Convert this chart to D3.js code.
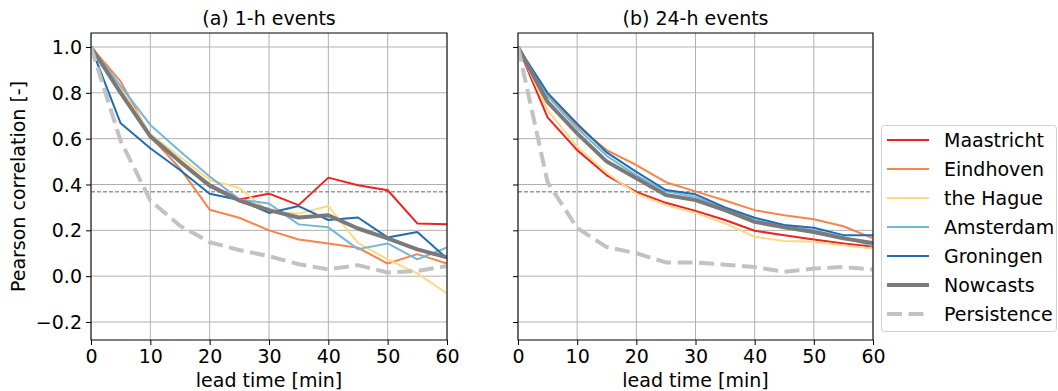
<!DOCTYPE html>
<html>
<head>
<meta charset="utf-8">
<script src="https://cdnjs.cloudflare.com/ajax/libs/d3/7.8.5/d3.min.js"></script>
<style>
  body { margin: 0; background: #fff; }
  text { font-family: "DejaVu Sans", sans-serif; fill: #000; }
</style>
</head>
<body>
<script>
// lead times in minutes
var leadTimes = [0, 5, 10, 15, 20, 25, 30, 35, 40, 45, 50, 55, 60];
var yTicks = [-0.2, 0.0, 0.2, 0.4, 0.6, 0.8, 1.0];
var xTicks = [0, 10, 20, 30, 40, 50, 60];
var names = ["Maastricht", "Eindhoven", "the Hague", "Amsterdam", "Groningen", "Nowcasts", "Persistence"];
var colors = ["#ec2320", "#f8844b", "#fdd985", "#74b6dc", "#1f6db0", "#7a7a7a", "#c2c2c2"];

// (a) 1-h events
var maastricht1h = [1.0, 0.80, 0.61, 0.50, 0.40, 0.335, 0.36, 0.31, 0.43, 0.397, 0.375, 0.23, 0.227];
var eindhoven1h = [1.0, 0.85, 0.61, 0.47, 0.29, 0.255, 0.20, 0.16, 0.143, 0.124, 0.055, 0.096, 0.055];
var hague1h = [1.0, 0.82, 0.62, 0.52, 0.42, 0.385, 0.28, 0.273, 0.306, 0.145, 0.073, 0.012, -0.075];
var amsterdam1h = [1.0, 0.83, 0.66, 0.545, 0.435, 0.335, 0.317, 0.226, 0.213, 0.118, 0.143, 0.073, 0.125];
var groningen1h = [1.0, 0.667, 0.558, 0.463, 0.36, 0.332, 0.276, 0.306, 0.245, 0.256, 0.169, 0.193, 0.077];
var nowcasts1h = [1.0, 0.80, 0.61, 0.50, 0.395, 0.33, 0.288, 0.256, 0.266, 0.208, 0.165, 0.117, 0.082];
var persistence1h = [1.0, 0.59, 0.33, 0.22, 0.148, 0.114, 0.087, 0.052, 0.03, 0.048, 0.016, 0.023, 0.044];

// (b) 24-h events
var maastricht24h = [1.0, 0.693, 0.55, 0.44, 0.368, 0.32, 0.285, 0.245, 0.198, 0.179, 0.16, 0.143, 0.128];
var eindhoven24h = [1.0, 0.79, 0.655, 0.55, 0.485, 0.41, 0.37, 0.33, 0.288, 0.266, 0.248, 0.218, 0.165];
var hague24h = [1.0, 0.725, 0.565, 0.45, 0.36, 0.31, 0.276, 0.23, 0.172, 0.153, 0.15, 0.135, 0.121];
var amsterdam24h = [1.0, 0.785, 0.645, 0.525, 0.44, 0.37, 0.346, 0.295, 0.245, 0.218, 0.20, 0.17, 0.131];
var groningen24h = [1.0, 0.80, 0.665, 0.54, 0.455, 0.376, 0.357, 0.30, 0.255, 0.223, 0.211, 0.179, 0.179];
var nowcasts24h = [1.0, 0.76, 0.623, 0.50, 0.427, 0.354, 0.332, 0.288, 0.237, 0.213, 0.193, 0.165, 0.145];
var persistence24h = [1.0, 0.41, 0.21, 0.127, 0.10, 0.06, 0.06, 0.05, 0.04, 0.019, 0.033, 0.04, 0.029];

var efold = 1 / Math.E;

var w = 1058;
var h = 391;
var plotTop = 33, plotBottom = 340;
var fs = "19px";

var panels = [
  {title: "(a) 1-h events", left: 91, right: 447, labels: true,
   series: [maastricht1h, eindhoven1h, hague1h, amsterdam1h, groningen1h, nowcasts1h, persistence1h]},
  {title: "(b) 24-h events", left: 518, right: 873, labels: false,
   series: [maastricht24h, eindhoven24h, hague24h, amsterdam24h, groningen24h, nowcasts24h, persistence24h]}
];

var svg = d3.select("body").append("svg")
    .attr("width", w)
    .attr("height", h);

var yScale = d3.scaleLinear()
    .domain([-0.2785, 1.061])
    .range([plotBottom, plotTop]);

panels.forEach(function(p) {
  var xScale = d3.scaleLinear()
      .domain([0, 60])
      .range([p.left, p.right]);

  var g = svg.append("g");

  // grid
  g.selectAll(".vgrid").data(xTicks).enter().append("line")
      .attr("x1", function(d) { return xScale(d); })
      .attr("x2", function(d) { return xScale(d); })
      .attr("y1", plotTop).attr("y2", plotBottom)
      .attr("stroke", "#b0b0b0").attr("stroke-width", 1);
  g.selectAll(".hgrid").data(yTicks).enter().append("line")
      .attr("y1", function(d) { return yScale(d); })
      .attr("y2", function(d) { return yScale(d); })
      .attr("x1", p.left).attr("x2", p.right)
      .attr("stroke", "#b0b0b0").attr("stroke-width", 1);

  // 1/e line
  g.append("line")
      .attr("x1", p.left).attr("x2", p.right)
      .attr("y1", yScale(efold)).attr("y2", yScale(efold))
      .attr("stroke", "#666").attr("stroke-width", 1)
      .attr("stroke-dasharray", "4,2");

  var line = d3.line()
      .x(function(d, i) { return xScale(leadTimes[i]); })
      .y(function(d) { return yScale(d); });

  // clip to axes area
  var clipId = "clip" + p.left;
  svg.append("clipPath").attr("id", clipId).append("rect")
      .attr("x", p.left).attr("y", plotTop)
      .attr("width", p.right - p.left).attr("height", plotBottom - plotTop);

  var lg = g.append("g").attr("clip-path", "url(#" + clipId + ")");
  p.series.forEach(function(s, k) {
    var path = lg.append("path")
        .datum(s)
        .attr("d", line)
        .attr("fill", "none")
        .attr("stroke", colors[k])
        .attr("stroke-linejoin", "round")
        .attr("stroke-width", k >= 5 ? 4 : 2);
    if (k == 6) path.attr("stroke-dasharray", "15,6.5");
  });

  // frame
  g.append("rect")
      .attr("x", p.left).attr("y", plotTop)
      .attr("width", p.right - p.left).attr("height", plotBottom - plotTop)
      .attr("fill", "none").attr("stroke", "#000").attr("stroke-width", 1);

  // axes
  var xa = g.append("g")
      .attr("transform", "translate(0," + plotBottom + ")")
      .call(d3.axisBottom(xScale).tickValues(xTicks).tickSize(5).tickPadding(5));
  xa.select(".domain").remove();
  xa.selectAll("text").style("font-size", fs);

  var ya = g.append("g")
      .attr("transform", "translate(" + p.left + ",0)")
      .call(d3.axisLeft(yScale).tickValues(yTicks).tickSize(5).tickPadding(4)
        .tickFormat(p.labels ? function(d) { return d3.format(".1f")(d).replace("-", "\u2212"); } : ""));
  ya.select(".domain").remove();
  ya.selectAll("text").style("font-size", fs).attr("dy", "0.35em");

  // title
  g.append("text")
      .attr("x", (p.left + p.right) / 2)
      .attr("y", 25)
      .attr("text-anchor", "middle")
      .style("font-size", fs)
      .text(p.title);

  // x axis title
  g.append("text")
      .attr("x", (p.left + p.right) / 2)
      .attr("y", 387)
      .attr("text-anchor", "middle")
      .style("font-size", fs)
      .text("lead time [min]");
});

// y axis title
svg.append("text")
    .attr("transform", "translate(25," + ((plotTop + plotBottom) / 2) + ") rotate(-90)")
    .attr("text-anchor", "middle")
    .style("font-size", fs)
    .text("Pearson correlation [-]");

// legend
var legend = svg.append("g");
legend.append("rect")
    .attr("x", 881.5).attr("y", 125.5)
    .attr("width", 175).attr("height", 206)
    .attr("rx", 3)
    .attr("fill", "#fff").attr("stroke", "#d0d0d0");

var items = legend.selectAll(".item").data(names).enter().append("g")
    .attr("transform", function(d, i) { return "translate(887," + (140 + i * 29) + ")"; });
items.append("line")
    .attr("x1", 0).attr("x2", 42)
    .attr("stroke", function(d, i) { return colors[i]; })
    .attr("stroke-width", function(d, i) { return i >= 5 ? 4 : 2; })
    .attr("stroke-dasharray", function(d, i) { return i == 6 ? "15,6.5" : null; });
items.append("text")
    .attr("x", 57)
    .attr("dy", "0.35em")
    .style("font-size", fs)
    .text(function(d) { return d; });
</script>
</body>
</html>
